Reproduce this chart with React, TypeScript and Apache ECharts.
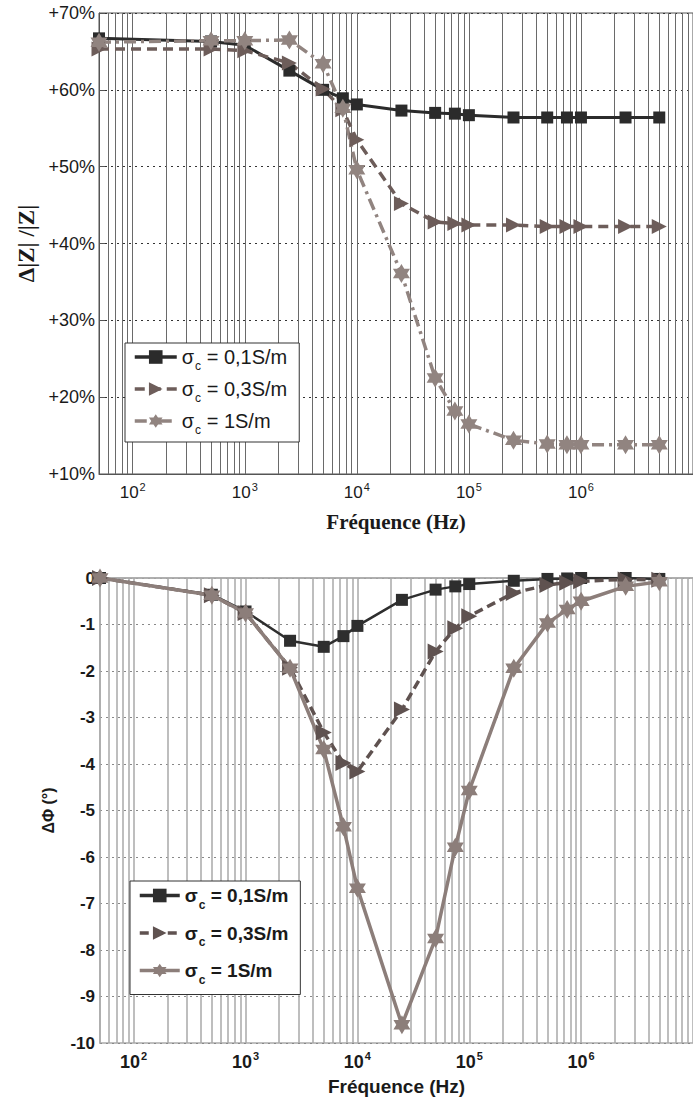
import React, { useEffect, useRef } from "react";
import * as echarts from "echarts";

// Frequencies (Hz) shared by both plots
const freqs = [50, 500, 1000, 2500, 5000, 7500, 1e4, 2.5e4, 5e4, 7.5e4, 1e5, 2.5e5, 5e5, 7.5e5, 1e6, 2.5e6, 5e6];

// Top plot: Δ|Z|/|Z| in %
const magS01 = [66.7, 66.3, 65.8, 62.5, 60.0, 58.9, 58.1, 57.3, 57.0, 56.9, 56.7, 56.4, 56.4, 56.4, 56.4, 56.4, 56.4];
const magS03 = [65.3, 65.3, 65.1, 63.5, 60.1, 57.4, 53.5, 45.2, 42.8, 42.6, 42.4, 42.4, 42.2, 42.2, 42.2, 42.2, 42.2];
const magS1 = [66.2, 66.4, 66.4, 66.5, 63.4, 57.6, 49.6, 36.1, 22.5, 18.2, 16.5, 14.4, 13.9, 13.8, 13.8, 13.8, 13.8];

// Bottom plot: ΔΦ in degrees
const phaseS01 = [0, -0.36, -0.72, -1.35, -1.48, -1.25, -1.03, -0.47, -0.25, -0.18, -0.13, -0.06, -0.02, -0.01, 0, 0, -0.02];
const phaseS03 = [0, -0.37, -0.75, -1.93, -3.32, -3.98, -4.16, -2.83, -1.58, -1.08, -0.82, -0.32, -0.15, -0.1, -0.07, -0.03, -0.04];
const phaseS1 = [0, -0.37, -0.75, -1.94, -3.69, -5.35, -6.67, -9.61, -7.75, -5.79, -4.57, -1.94, -0.97, -0.68, -0.5, -0.18, -0.08];

const legendValues = ["0,1S/m", "0,3S/m", "1S/m"];
const magTickMin = 10;
const magTickMax = 70;
const phaseTickMin = -10;
const phaseTickMax = 0;
const freqMin = 50;
const freqMax = 1e7;
const gridMultipliers = [1, 2, 3, 4, 5, 6, 7, 8, 9];
const gridDecades = [1, 2, 3, 4, 5, 6];

const SANS = "Liberation Sans, Arial, Helvetica, sans-serif";
const SERIF = "Liberation Serif, Times New Roman, serif";

const triPath = "path://M0,0L10,5L0,10Z";
const starPath =
  "path://M10,0L12.885,5L18.66,5L15.77,10L18.66,15L12.885,15L10,20L7.115,15L1.34,15L4.23,10L1.34,5L7.115,5Z";

const gridFreqs: number[] = [];
gridDecades.forEach((d) =>
  gridMultipliers.forEach((m) => {
    const f = m * Math.pow(10, d);
    if (f > freqMin && f < freqMax) gridFreqs.push(f);
  })
);

const pairs = (ys: number[]) => freqs.map((f, i) => [f, ys[i]]);

const pow10Label = (v: number) => {
  const e = Math.round(Math.log10(v));
  if (Math.abs(v - Math.pow(10, e)) > 1e-6 * v) return "";
  return `{b|10}{s|${e}}`;
};

export default function App() {
  const ref = useRef<HTMLDivElement>(null);

  useEffect(() => {
    if (!ref.current) return;
    const chart = echarts.init(ref.current, undefined, { renderer: "svg" });

    const legendRich = (bold: boolean, size: number) => ({
      a: { fontSize: size, fontFamily: SANS, fontWeight: bold ? "bold" : "normal", color: "#1a1a1a" },
      s: { fontSize: 12, fontFamily: SANS, fontWeight: bold ? "bold" : "normal", color: "#1a1a1a", padding: [18, 0, 0, 1] },
    });

    const xLabelRich = (bold: boolean, size: number) => ({
      b: { fontSize: size, fontFamily: SANS, fontWeight: bold ? "bold" : "normal", color: "#1a1a1a" },
      s: { fontSize: 11, fontFamily: SANS, fontWeight: bold ? "bold" : "normal", color: "#1a1a1a", padding: [0, 0, 12, 1] },
    });

    const vGrid = (color: string, width: number) => ({
      silent: true,
      z: 1,
      symbol: ["none", "none"],
      label: { show: false },
      lineStyle: { color, width, type: "solid" },
      emphasis: { disabled: true },
      data: gridFreqs.map((f) => ({ xAxis: f })),
    });

    const option: any = {
      animation: false,
      grid: [
        { left: 99, top: 13, width: 624, height: 461, show: true, borderColor: "#555", borderWidth: 1 },
        { left: 100, top: 578, width: 627, height: 465, show: true, borderColor: "#aaa", borderWidth: 1.5 },
      ],
      xAxis: [
        {
          type: "log",
          gridIndex: 0,
          min: freqMin,
          max: freqMax,
          axisLine: { lineStyle: { color: "#555" } },
          axisTick: { inside: true, length: 5, lineStyle: { color: "#555" } },
          splitLine: { show: false },
          axisLabel: { formatter: pow10Label, rich: xLabelRich(false, 17), margin: 7, showMinLabel: false, showMaxLabel: false },
          name: "Fréquence (Hz)",
          nameLocation: "middle",
          nameGap: 37,
          nameTextStyle: { fontFamily: SERIF, fontWeight: "bold", fontSize: 21, color: "#1a1a1a" },
        },
        {
          type: "log",
          gridIndex: 1,
          min: freqMin,
          max: freqMax,
          axisLine: { lineStyle: { color: "#aaa", width: 1.5 } },
          axisTick: { show: false },
          splitLine: { show: false },
          axisLabel: { formatter: pow10Label, rich: xLabelRich(true, 18), margin: 7, showMinLabel: false, showMaxLabel: false },
          name: "Fréquence (Hz)",
          nameLocation: "middle",
          nameGap: 34,
          nameTextStyle: { fontFamily: SANS, fontWeight: "bold", fontSize: 19, color: "#1a1a1a" },
        },
      ],
      yAxis: [
        {
          type: "value",
          gridIndex: 0,
          min: magTickMin,
          max: magTickMax,
          interval: 10,
          axisLine: { show: true, lineStyle: { color: "#555" } },
          axisTick: { inside: true, length: 6, lineStyle: { color: "#555" } },
          splitLine: { show: true, lineStyle: { color: "#333", type: [2, 4], width: 1 } },
          axisLabel: {
            formatter: (v: number) => `+${v}%`,
            fontFamily: SANS,
            fontSize: 18,
            color: "#1a1a1a",
            margin: 4,
          },
          name: "Δ|Z| /|Z|",
          nameLocation: "middle",
          nameGap: 52,
          nameRotate: 90,
          nameTextStyle: { fontFamily: SERIF, fontWeight: "bold", fontSize: 23, color: "#1a1a1a" },
        },
        {
          type: "value",
          gridIndex: 1,
          min: phaseTickMin,
          max: phaseTickMax,
          interval: 1,
          axisLine: { show: true, lineStyle: { color: "#aaa", width: 1.5 } },
          axisTick: { show: false },
          splitLine: { show: true, lineStyle: { color: "#888", type: [2, 4], width: 1.2 } },
          axisLabel: {
            fontFamily: SANS,
            fontWeight: "bold",
            fontSize: 17,
            color: "#1a1a1a",
            margin: 5,
          },
          name: "ΔΦ (°)",
          nameLocation: "middle",
          nameGap: 44,
          nameRotate: 90,
          nameTextStyle: { fontFamily: SANS, fontWeight: "bold", fontSize: 16, color: "#1a1a1a" },
        },
      ],
      legend: [
        {
          data: ["m1", "m2", "m3"],
          orient: "vertical",
          left: 125,
          top: 343,
          padding: [4, 12, 6, 8],
          itemGap: 7,
          itemWidth: 42,
          itemHeight: 17,
          selectedMode: false,
          backgroundColor: "#fff",
          borderColor: "#333",
          borderWidth: 1,
          lineStyle: { width: 3.5 },
          formatter: (n: string) => `{a|σ}{s|c}{a| = ${legendValues[Number(n.slice(1)) - 1]}}`,
          textStyle: { rich: legendRich(false, 20) },
        },
        {
          data: ["p1", "p2", "p3"],
          orient: "vertical",
          left: 130,
          top: 881,
          padding: [5, 12, 9, 8],
          itemGap: 13,
          itemWidth: 40,
          itemHeight: 17,
          selectedMode: false,
          backgroundColor: "#fff",
          borderColor: "#333",
          borderWidth: 1,
          lineStyle: { width: 3.5 },
          formatter: (n: string) => `{a|σ}{s|c}{a| = ${legendValues[Number(n.slice(1)) - 1]}}`,
          textStyle: { rich: legendRich(true, 19) },
        },
      ],
      series: [
        {
          name: "m1",
          type: "line",
          xAxisIndex: 0,
          yAxisIndex: 0,
          data: pairs(magS01),
          symbol: "rect",
          symbolSize: 12,
          lineStyle: { color: "#2b2b2b", width: 3 },
          itemStyle: { color: "#2b2b2b" },
          markLine: vGrid("#6a6a6a", 1),
        },
        {
          name: "m2",
          type: "line",
          xAxisIndex: 0,
          yAxisIndex: 0,
          data: pairs(magS03),
          symbol: triPath,
          symbolSize: [15, 15],
          lineStyle: { color: "#6d5d5a", width: 3.5, type: [10, 6] },
          itemStyle: { color: "#6d5d5a" },
        },
        {
          name: "m3",
          type: "line",
          xAxisIndex: 0,
          yAxisIndex: 0,
          data: pairs(magS1),
          symbol: starPath,
          symbolSize: [17, 19],
          lineStyle: { color: "#918480", width: 3.5, type: [12, 5, 3, 5] },
          itemStyle: { color: "#918480" },
        },
        {
          name: "p1",
          type: "line",
          xAxisIndex: 1,
          yAxisIndex: 1,
          data: pairs(phaseS01),
          symbol: "rect",
          symbolSize: 12,
          lineStyle: { color: "#2e2e2e", width: 2.5 },
          itemStyle: { color: "#2e2e2e" },
          markLine: vGrid("#a8a8a8", 1.5),
        },
        {
          name: "p2",
          type: "line",
          xAxisIndex: 1,
          yAxisIndex: 1,
          data: pairs(phaseS03),
          symbol: triPath,
          symbolSize: [16, 16],
          lineStyle: { color: "#5f5250", width: 3.5, type: [9, 5] },
          itemStyle: { color: "#5f5250" },
        },
        {
          name: "p3",
          type: "line",
          xAxisIndex: 1,
          yAxisIndex: 1,
          data: pairs(phaseS1),
          symbol: starPath,
          symbolSize: [17, 19],
          lineStyle: { color: "#8c7e7a", width: 3.5 },
          itemStyle: { color: "#8c7e7a" },
        },
      ],
    };

    chart.setOption(option);
    return () => chart.dispose();
  }, []);

  return (
    <div
      ref={ref}
      style={{ position: "absolute", left: 0, top: 0, width: 693, height: 1100, overflow: "hidden", background: "#fff" }}
    />
  );
}
